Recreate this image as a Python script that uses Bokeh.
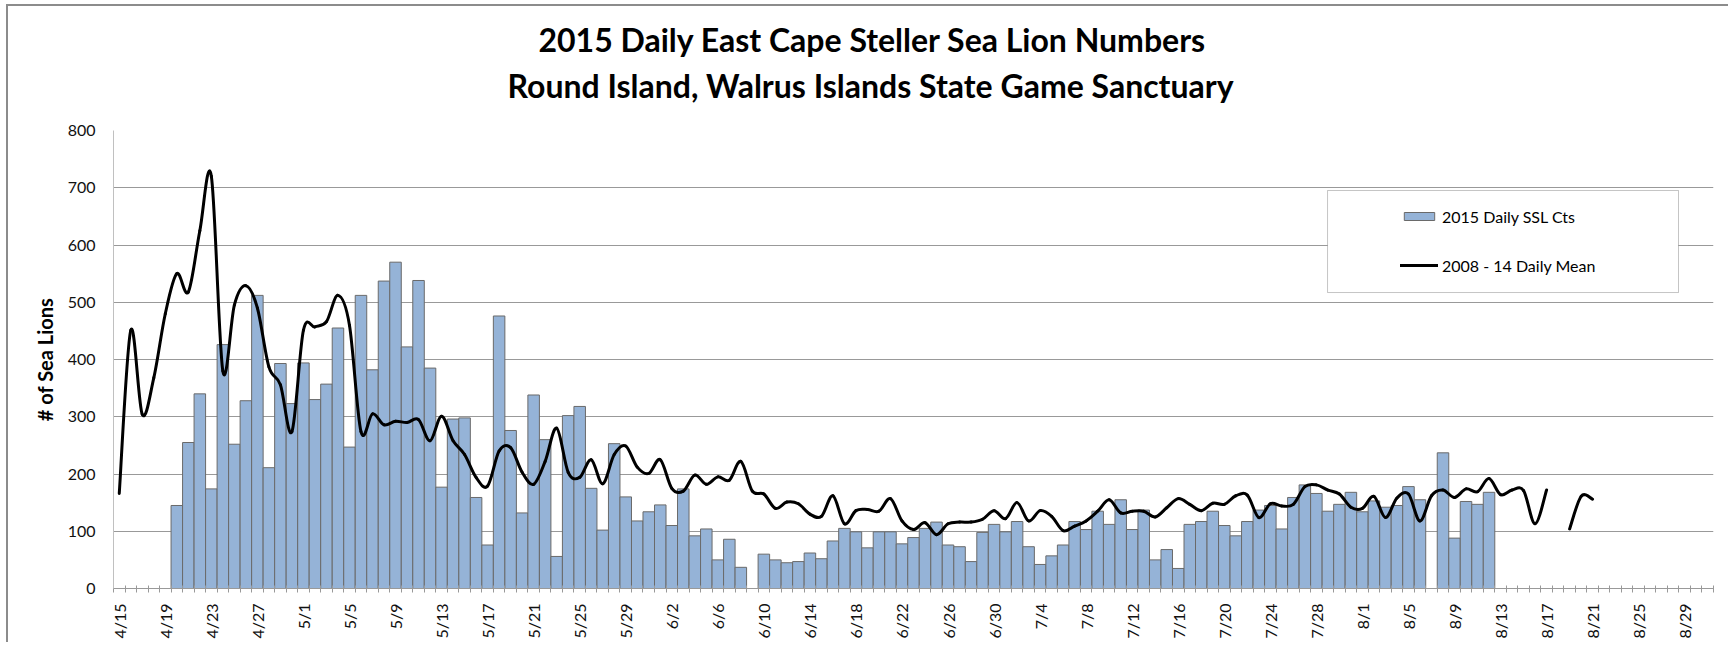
import math
import numpy as np
import pandas as pd
from bokeh.plotting import figure
from bokeh.models import (ColumnDataSource, FixedTicker, Legend, LegendItem,
                          BoxAnnotation, Range1d, Title, LinearAxis)
from bokeh.embed import file_html
from bokeh.resources import INLINE

# ---------------- data ----------------
season_start = "2015-04-15"
season_end = "2015-08-31"

title_lines = ["2015 Daily East Cape Steller Sea Lion Numbers",
               "Round Island, Walrus Islands State Game Sanctuary"]
y_title = "# of Sea Lions"
series_names = ["2015 Daily SSL Cts", "2008 - 14 Daily Mean"]

# 2015 daily counts, 4/20 .. 8/12 (None = no count)
counts_start = "2015-04-20"
counts_2015 = [
    145, 255, 340, 174, 426, 252, 328, 512, 211, 393, 323,            # 4/20-4/30
    394, 330, 357, 455, 247, 512, 382, 537, 570, 422, 538, 385, 177,  # 5/1-5/13
    296, 298, 159, 76, 476, 276, 132, 338, 260, 56, 302, 318, 175,    # 5/14-5/26
    102, 253, 160, 118, 134,                                          # 5/27-5/31
    146, 110, 174, 92, 104, 50, 86, 37, None, 60, 50, 45, 47, 62,     # 6/1-6/14
    52, 83, 105, 99, 71, 99, 99, 78, 89, 105, 116, 76, 73, 47, 98,    # 6/15-6/29
    112,                                                              # 6/30
    99, 117, 73, 42, 57, 76, 117, 103, 135, 112, 155, 103, 137, 50,   # 7/1-7/14
    68, 35, 112, 117, 135, 110, 92, 117, 137, 145, 104, 159, 181,     # 7/15-7/27
    166, 135, 147, 168,                                               # 7/28-7/31
    134, 153, 142, 145, 178, 155, None, 237, 88, 152, 147, 168,       # 8/1-8/12
]

# 2008-2014 daily mean, 4/15 .. 8/21 (None = no value)
mean_start = "2015-04-15"
mean_2008_14 = [
    166, 451, 304, 368, 480, 550, 518, 625, 720, 380, 495, 529, 490,  # 4/15-4/27
    387, 356, 274,                                                    # 4/28-4/30
    451, 457, 466, 512, 460, 274, 305, 286, 292, 290, 295, 258, 301,  # 5/1-5/13
    258, 234, 194, 179, 240, 246, 203, 182, 222, 280, 203, 194, 225,  # 5/14-5/26
    183, 234, 249, 212, 201,                                          # 5/27-5/31
    225, 175, 170, 198, 182, 195, 189, 222, 170, 165, 140, 151, 148,  # 6/1-6/13
    130, 126, 162, 113, 136, 138, 135, 157, 118, 103, 115, 94, 113,   # 6/14-6/26
    116, 116, 121, 136,                                               # 6/27-6/30
    122, 150, 118, 136, 126, 101, 109, 118, 135, 155, 132, 135, 135,  # 7/1-7/13
    125, 141, 157, 147, 136, 149, 147, 162, 163, 124, 148, 144, 147,  # 7/14-7/26
    178, 181, 172, 165, 142,                                          # 7/27-7/31
    140, 161, 124, 158, 165, 118, 162, 172, 159, 174, 169, 192, 164,  # 8/1-8/13
    172, 171, 113, 172, None, 104, 161, 156,                          # 8/14-8/21
]

y_ticks = [0, 100, 200, 300, 400, 500, 600, 700, 800]
label_every = 4

# ---------------- derived tables ----------------
dates = pd.date_range(season_start, season_end, freq="D")
date_labels = [f"{d.month}/{d.day}" for d in dates]
n_days = len(dates)
day_x = np.arange(n_days, dtype=float)

def align(vals, start):
    off = (pd.Timestamp(start) - dates[0]).days
    out = np.full(n_days, np.nan)
    for k, v in enumerate(vals):
        if v is not None:
            out[off + k] = v
    return out

bars = align(counts_2015, counts_start)
mean = align(mean_2008_14, mean_start)

bar_src = ColumnDataSource(dict(x=day_x[~np.isnan(bars)], top=bars[~np.isnan(bars)]))

# smoothed (Bezier) rendering of the mean series between consecutive present days
seg = dict(x0=[], y0=[], x1=[], y1=[], cx0=[], cy0=[], cx1=[], cy1=[])
for i in range(n_days - 1):
    if np.isnan(mean[i]) or np.isnan(mean[i + 1]):
        continue
    ip = i - 1 if i - 1 >= 0 and not np.isnan(mean[i - 1]) else i
    inx = i + 2 if i + 2 < n_days and not np.isnan(mean[i + 2]) else i + 1
    seg["x0"].append(day_x[i]); seg["y0"].append(mean[i])
    seg["x1"].append(day_x[i + 1]); seg["y1"].append(mean[i + 1])
    seg["cx0"].append(day_x[i] + (day_x[i + 1] - day_x[ip]) / 6.0)
    seg["cy0"].append(mean[i] + (mean[i + 1] - mean[ip]) / 6.0)
    seg["cx1"].append(day_x[i + 1] - (day_x[inx] - day_x[i]) / 6.0)
    seg["cy1"].append(mean[i + 1] - (mean[inx] - mean[i]) / 6.0)
line_src = ColumnDataSource(seg)

# ---------------- figure ----------------
FONT = "Lato"
p = figure(width=1722, height=638, output_backend="svg", toolbar_location=None,
           x_range=Range1d(-0.5, n_days - 0.5), y_range=Range1d(0, 800),
           min_border_left=105, min_border_right=17, min_border_top=124,
           min_border_bottom=56)
p.margin = (4, 0, 0, 6)
p.styles = {"border-left": "2px solid #8c8c8c", "border-top": "2px solid #8c8c8c"}
p.outline_line_color = None
p.background_fill_color = "white"
p.border_fill_color = "white"

# grid
p.xgrid.grid_line_color = None
p.ygrid.ticker = FixedTicker(ticks=y_ticks)
p.ygrid.grid_line_color = "#999999"
p.ygrid.grid_line_width = 1

# bars
bar_r = p.vbar(x="x", top="top", bottom=0, width=1.0, source=bar_src,
               fill_color="#95b3d7", line_color="#6a6a6a", line_width=1)

# mean line
line_r = p.bezier(x0="x0", y0="y0", x1="x1", y1="y1", cx0="cx0", cy0="cy0",
                  cx1="cx1", cy1="cy1", source=line_src, line_color="black",
                  line_width=3, line_cap="round")

# x axis
xa = p.xaxis[0]
major = list(range(0, n_days, label_every))
xa.ticker = FixedTicker(ticks=major, minor_ticks=[i - 0.5 for i in range(n_days + 1)])
xa.major_label_overrides = {i: date_labels[i] for i in major}
xa.major_label_orientation = math.pi / 2
xa.major_tick_line_color = None
xa.major_tick_in = 0
xa.major_tick_out = 0
xa.minor_tick_line_color = "#999999"
xa.minor_tick_in = 3
xa.minor_tick_out = 4
xa.axis_line_color = "#999999"
xa.major_label_standoff = 11
xa.major_label_text_font = FONT
xa.major_label_text_font_size = "16px"
xa.major_label_text_color = "#111111"

# y axis
ya = p.yaxis[0]
ya.ticker = FixedTicker(ticks=y_ticks)
ya.major_tick_line_color = None
ya.minor_tick_line_color = None
ya.major_tick_in = 0
ya.major_tick_out = 0
ya.axis_line_color = "#c0c0c0"
ya.major_label_standoff = 18
ya.major_label_text_font = FONT
ya.major_label_text_font_size = "16px"
ya.major_label_text_color = "#111111"
ya.axis_label = y_title
ya.axis_label_text_font = FONT
ya.axis_label_text_font_style = "bold"
ya.axis_label_text_font_size = "20px"
ya.axis_label_text_color = "#000000"
ya.axis_label_standoff = 8

# invisible spacer between the plot area and the title block
spacer = LinearAxis(ticker=FixedTicker(ticks=[0]), axis_line_color="white",
                    major_tick_line_color="white", minor_tick_line_color=None,
                    major_tick_in=0, major_tick_out=22, minor_tick_out=0,
                    major_label_standoff=0, major_label_text_font_size="1px",
                    major_label_text_color="white",
                    major_label_overrides={0: " "})
p.add_layout(spacer, "above")

# title (two lines above the plot area; first added sits closest to the frame)
p.add_layout(Title(text=title_lines[1], align="left", offset=394, text_font=FONT,
                   text_font_style="bold", text_font_size="32px",
                   text_color="#000000", standoff=0), "above")
p.add_layout(Title(text=title_lines[0], align="left", offset=425, text_font=FONT,
                   text_font_style="bold", text_font_size="32px",
                   text_color="#000000", standoff=9), "above")

# legend frame
p.add_layout(BoxAnnotation(left=104.97, right=135.46, bottom=517.0, top=695.2,
                           fill_color="white", fill_alpha=1.0,
                           line_color="#404040", line_width=1, level="annotation"))

legend = Legend(items=[LegendItem(label=series_names[0], renderers=[bar_r]),
                       LegendItem(label=series_names[1], renderers=[line_r])],
                location=(1287, 313), orientation="vertical",
                padding=0, margin=0, spacing=29,
                glyph_width=38, glyph_height=10, label_height=20,
                label_standoff=4, label_text_font=FONT,
                label_text_font_size="16px", label_text_color="#000000",
                border_line_color=None, background_fill_alpha=0.0)
p.add_layout(legend)

open("out.html", "w").write(file_html(p, INLINE))
